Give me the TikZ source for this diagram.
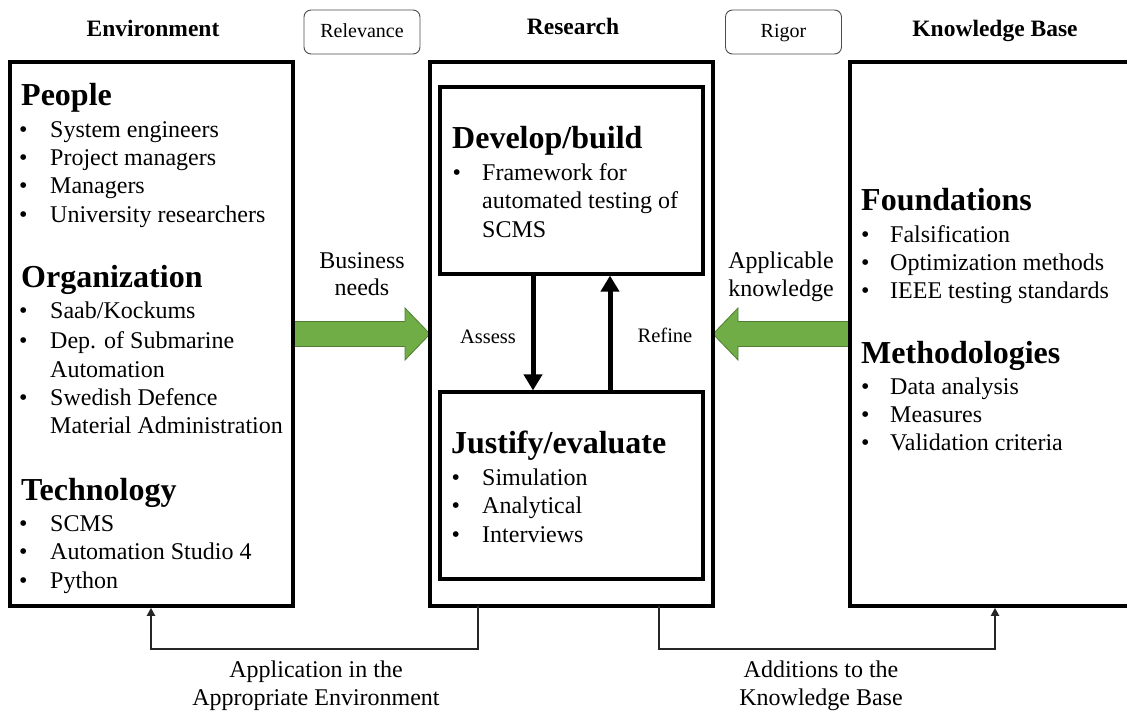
\documentclass[tikz,border=0pt]{standalone}
\usepackage{fontspec}
\setmainfont{Liberation Serif}
\usetikzlibrary{arrows.meta}
\pgfdeclarelayer{bg}
\pgfsetlayers{bg,main}
\definecolor{gfill}{HTML}{70AD47}
\definecolor{gline}{HTML}{507E32}
\begin{document}
\begin{tikzpicture}[x=1pt,y=-1pt,
 box/.style={draw, line width=3.6pt, rectangle, inner sep=0pt, outer sep=0pt},
 tag/.style={draw=black!70, line width=0.9pt, rounded corners=7pt, minimum width=116pt, minimum height=44pt, inner sep=0pt, text height=14pt, text depth=4pt, font=\fontsize{20}{24}\selectfont},
 hdr/.style={anchor=base, font=\bfseries\fontsize{23.5}{28}\selectfont, inner sep=0pt},
 sec/.style={anchor=base west, font=\bfseries\fontsize{32}{38}\selectfont, inner sep=0pt},
 itm/.style={anchor=base west, font=\fontsize{24}{28}\selectfont, inner sep=0pt},
 bul/.style={anchor=base west, font=\fontsize{24}{28}\selectfont, inner sep=0pt},
 lbl/.style={anchor=base, font=\fontsize{24}{28}\selectfont, inner sep=0pt},
 slbl/.style={anchor=base, font=\fontsize{20.5}{24}\selectfont, inner sep=0pt},
 garrow/.style={fill=gfill, draw=gline, line width=0.8pt, line join=miter},
 vert/.style={line width=5pt, -{Triangle[width=18pt,length=16pt]}, shorten >=1.6pt},
 conn/.style={line width=2pt, draw=black!85, -{Triangle[width=8pt,length=8pt]}, shorten >=1.8pt}
]
\useasboundingbox (0,0) rectangle (1127,713);
\clip (0,0) rectangle (1127,713);

% main boxes
\node[box, minimum width=283pt, minimum height=544pt] (env) at (151.5,334) {};
\node[box, minimum width=283pt, minimum height=544pt] (res) at (571.5,334) {};
\node[box, minimum width=300pt, minimum height=544pt] (kb) at (1000,334) {};
\node[box, minimum width=263pt, minimum height=187pt] (dev) at (571.75,180.5) {};
\node[box, minimum width=263pt, minimum height=187pt] (jus) at (571.75,485.5) {};

% headers and tags
\node[hdr] (henv) at (153,36) {Environment};
\node[hdr] (hres) at (573,34) {Research};
\node[hdr] (hkb) at (995,36) {Knowledge Base};
\node[tag] (rel) at (362,32) {Relevance};
\node[tag] (rig) at (783.5,32) {Rigor};

% green arrows
\begin{pgfonlayer}{bg}
\draw[garrow] (env.east |- 0,321.5) -- (405,321.5) -- (405,308) -- (res.west |- 0,334) -- (405,360) -- (405,346.5) -- (env.east |- 0,346.5) -- cycle;
\draw[garrow] (kb.west |- 0,321.5) -- (738,321.5) -- (738,308) -- (res.east |- 0,334) -- (738,360) -- (738,346.5) -- (kb.west |- 0,346.5) -- cycle;
\end{pgfonlayer}

% assess / refine
\draw[vert] (dev.south -| 533,0) -- (jus.north -| 533,0);
\draw[vert] (jus.north -| 610,0) -- (dev.south -| 610,0);
\node[slbl] (assess) at (488,343) {Assess};
\node[slbl] (refine) at (665,342) {Refine};

% side labels
\node[lbl] (bn1) at (362,268) {Business};
\node[lbl] (bn2) at (362,295) {needs};
\node[lbl] (ak1) at (781,268) {Applicable};
\node[lbl] (ak2) at (781,296) {knowledge};

% bottom connectors
\draw[conn] (res.south -| 478,0) -- (478,649) -- (151,649) -- (env.south -| 151,0);
\draw[conn] (res.south -| 659,0) -- (659,649) -- (995,649) -- (kb.south -| 995,0);
\node[lbl] (ap1) at (316,677) {Application in the};
\node[lbl] (ap2) at (316,705) {Appropriate Environment};
\node[lbl] (ad1) at (821,677) {Additions to the};
\node[lbl] (ad2) at (821,705) {Knowledge Base};

% environment content
\node[sec] (peo) at (21,105) {People};
\node[bul] (b1) at (19,137) {•}; \node[itm] (t1) at (50,137) {System engineers};
\node[bul] (b2) at (19,165) {•}; \node[itm] (t2) at (50,165) {Project managers};
\node[bul] (b3) at (19,193) {•}; \node[itm] (t3) at (50,193) {Managers};
\node[bul] (b4) at (19,222) {•}; \node[itm] (t4) at (50,222) {University researchers};
\node[sec] (org) at (21,287) {Organization};
\node[bul] (b5) at (19,318) {•}; \node[itm] (t5) at (50,318) {Saab/Kockums};
\node[bul] (b6) at (19,348) {•}; \node[itm] (t6) at (50,348) {Dep. of Submarine};
\node[itm] (t7) at (50,377) {Automation};
\node[bul] (b8) at (19,405) {•}; \node[itm] (t8) at (50,405) {Swedish Defence};
\node[itm] (t9) at (50,433) {Material Administration};
\node[sec] (tec) at (21,500) {Technology};
\node[bul] (b10) at (19,531) {•}; \node[itm] (t10) at (50,531) {SCMS};
\node[bul] (b11) at (19,559) {•}; \node[itm] (t11) at (50,559) {Automation Studio 4};
\node[bul] (b12) at (19,588) {•}; \node[itm] (t12) at (50,588) {Python};

% research content
\node[sec] (devh) at (452,148) {Develop/build};
\node[bul] (d1) at (452.5,180) {•}; \node[itm] (dt1) at (482,180) {Framework for};
\node[itm] (dt2) at (482,208) {automated testing of};
\node[itm] (dt3) at (482,237) {SCMS};
\node[sec] (jush) at (451,453) {Justify/evaluate};
\node[bul] (j1) at (451.5,485) {•}; \node[itm] (jt1) at (482,485) {Simulation};
\node[bul] (j2) at (451.5,513) {•}; \node[itm] (jt2) at (482,513) {Analytical};
\node[bul] (j3) at (451.5,542) {•}; \node[itm] (jt3) at (482,542) {Interviews};

% knowledge base content
\node[sec] (fou) at (861,210) {Foundations};
\node[bul] (k1) at (861,242) {•}; \node[itm] (kt1) at (890,242) {Falsification};
\node[bul] (k2) at (861,270) {•}; \node[itm] (kt2) at (890,270) {Optimization methods};
\node[bul] (k3) at (861,298) {•}; \node[itm] (kt3) at (890,298) {IEEE testing standards};
\node[sec] (met) at (861,363) {Methodologies};
\node[bul] (k4) at (861,394) {•}; \node[itm] (kt4) at (890,394) {Data analysis};
\node[bul] (k5) at (861,422) {•}; \node[itm] (kt5) at (890,422) {Measures};
\node[bul] (k6) at (861,450) {•}; \node[itm] (kt6) at (890,450) {Validation criteria};
\end{tikzpicture}
\end{document}
